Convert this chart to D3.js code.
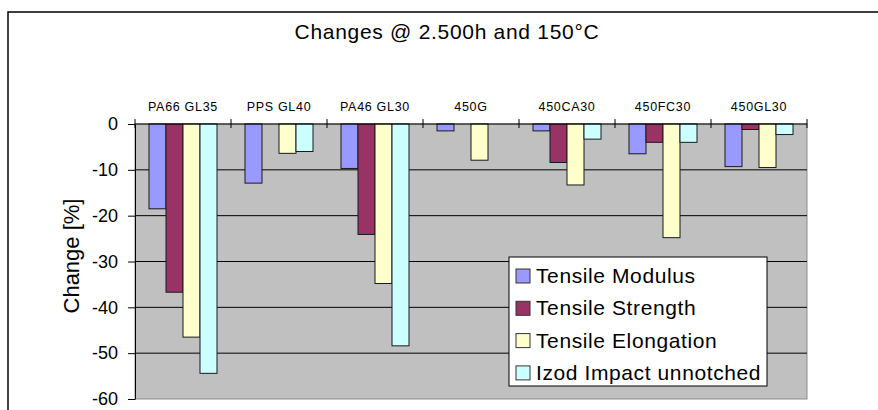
<!DOCTYPE html>
<html>
<head>
<meta charset="utf-8">
<script src="https://cdn.jsdelivr.net/npm/d3@7"></script>
<style>
  body { margin: 0; background: #fff; }
  svg { display: block; font-family: "Liberation Sans", Arial, sans-serif; }
</style>
</head>
<body>
<div id="chart"></div>
<script>
// data
const categories = ["PA66 GL35", "PPS GL40", "PA46 GL30", "450G", "450CA30", "450FC30", "450GL30"];
const seriesNames = ["Tensile Modulus", "Tensile Strength", "Tensile Elongation", "Izod Impact unnotched"];
const tensileModulus = [-18.5, -12.9, -9.7, -1.5, -1.5, -6.5, -9.3];
const tensileStrength = [-36.7, 0, -24.1, 0, -8.4, -4.0, -1.2];
const tensileElongation = [-46.5, -6.4, -34.8, -7.9, -13.3, -24.8, -9.5];
const izodImpact = [-54.4, -6.0, -48.4, 0, -3.3, -4.0, -2.3];
const yTicks = [0, -10, -20, -30, -40, -50, -60];
const colors = ["#9999ff", "#993366", "#ffffcc", "#ccffff"];

const allSeries = [tensileModulus, tensileStrength, tensileElongation, izodImpact];

const width = 878, height = 410;
const marginLeft = 135, marginRight = 71, marginTop = 124, marginBottom = 11;

const svg = d3.select("#chart").append("svg")
  .attr("width", width).attr("height", height);

// outer frame (left and top visible)
svg.append("path")
  .attr("d", `M8,${height} V12 H${width}`)
  .attr("fill", "none").attr("stroke", "#000").attr("stroke-width", 1.5);

// title
svg.append("text")
  .attr("x", 447).attr("y", 39)
  .attr("text-anchor", "middle")
  .attr("font-size", 21)
  .attr("letter-spacing", 0.7)
  .text("Changes @ 2.500h and 150°C");

// scales
const x0 = d3.scaleBand()
  .domain(categories)
  .range([marginLeft, width - marginRight]);

const x1 = d3.scaleBand()
  .domain(d3.range(seriesNames.length))
  .range([14, x0.bandwidth() - 14]);

const y = d3.scaleLinear()
  .domain([-60, 0])
  .range([height - marginBottom, marginTop]);

// plot background
svg.append("rect")
  .attr("x", marginLeft).attr("y", marginTop)
  .attr("width", width - marginRight - marginLeft)
  .attr("height", y(-60) - y(0))
  .attr("fill", "#c0c0c0")
  .attr("stroke", "#8c8c8c");

// gridlines
svg.append("g").selectAll("line")
  .data(yTicks.filter(t => t !== 0 && t !== -60))
  .join("line")
    .attr("x1", marginLeft).attr("x2", width - marginRight)
    .attr("y1", d => y(d)).attr("y2", d => y(d))
    .attr("stroke", "#000").attr("stroke-width", 1);

// bars
const groups = svg.append("g").selectAll("g")
  .data(categories)
  .join("g")
    .attr("transform", d => `translate(${x0(d)},0)`);

groups.selectAll("rect")
  .data((d, i) => allSeries.map((s, k) => ({k: k, v: s[i]})).filter(e => e.v !== 0))
  .join("rect")
    .attr("x", d => x1(d.k))
    .attr("y", y(0))
    .attr("width", x1.bandwidth())
    .attr("height", d => y(d.v) - y(0))
    .attr("fill", d => colors[d.k])
    .attr("stroke", "#1a1a1a")
    .attr("stroke-width", 1);

// y axis
const yAxis = svg.append("g")
  .attr("transform", `translate(${marginLeft},0)`)
  .call(d3.axisLeft(y).tickValues(yTicks).tickFormat(d => String(d))
    .tickSize(7).tickSizeOuter(0).tickPadding(10));
yAxis.select(".domain").attr("stroke", "#000");
yAxis.selectAll("text").attr("font-size", 18).attr("fill", "#000")
  .attr("font-family", "Liberation Sans, Arial, sans-serif");

// x axis on the zero line, labels above
const xAxis = svg.append("g")
  .attr("transform", `translate(0,${y(0)})`);
xAxis.append("line")
  .attr("x1", marginLeft).attr("x2", width - marginRight)
  .attr("stroke", "#000");
xAxis.selectAll("line.tick")
  .data(categories.map(c => x0(c)).concat([width - marginRight]))
  .join("line")
    .attr("class", "tick")
    .attr("x1", d => d).attr("x2", d => d)
    .attr("y1", -5).attr("y2", 4)
    .attr("stroke", "#000");
xAxis.selectAll("text")
  .data(categories)
  .join("text")
    .attr("x", d => x0(d) + x0.bandwidth() / 2)
    .attr("y", -13)
    .attr("text-anchor", "middle")
    .attr("font-size", 12.5)
    .attr("letter-spacing", 0.7)
    .text(d => d);

// y axis title
svg.append("text")
  .attr("transform", "translate(79,256) rotate(-90)")
  .attr("text-anchor", "middle")
  .attr("font-size", 22)
  .text("Change [%]");

// legend
const legend = svg.append("g").attr("transform", "translate(509,257)");
legend.append("rect")
  .attr("width", 258).attr("height", 129)
  .attr("fill", "#fff").attr("stroke", "#000");
const items = legend.selectAll("g")
  .data(seriesNames)
  .join("g")
    .attr("transform", (d, i) => `translate(0,${18 + i * 32.3})`);
items.append("rect")
  .attr("x", 7).attr("y", -6)
  .attr("width", 14).attr("height", 14)
  .attr("fill", (d, i) => colors[i])
  .attr("stroke", "#333");
items.append("text")
  .attr("x", 27).attr("y", 8)
  .attr("font-size", 21)
  .attr("letter-spacing", 0.6)
  .text(d => d);
</script>
</body>
</html>
